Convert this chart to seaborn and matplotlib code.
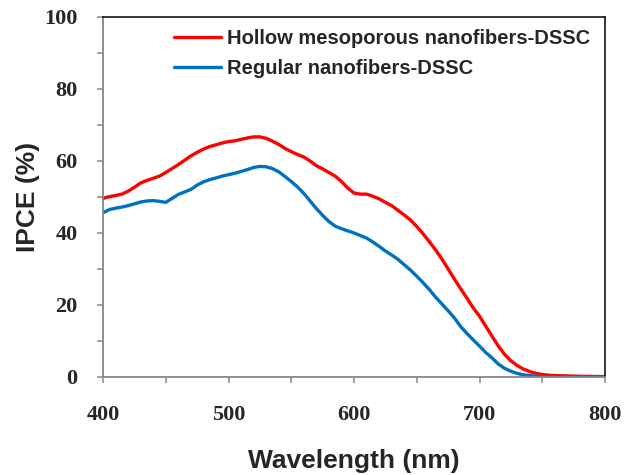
import numpy as np
import pandas as pd
import matplotlib
matplotlib.use("Agg")
import matplotlib.pyplot as plt
import seaborn as sns
from matplotlib.ticker import MultipleLocator

wavelength = list(range(400, 765, 5)) + [770, 780, 790, 800]
hollow = [49.6, 50.1, 50.4, 50.8, 51.6, 52.7, 53.9, 54.6, 55.2, 55.8,
          56.8, 57.9, 59.0, 60.2, 61.4, 62.4, 63.3, 64.0, 64.5, 65.0,
          65.4, 65.6, 66.0, 66.4, 66.7, 66.7, 66.3, 65.5, 64.6, 63.5,
          62.6, 61.8, 61.1, 60.0, 58.7, 57.8, 56.8, 55.8, 54.3, 52.5,
          51.1, 50.8, 50.8, 50.2, 49.5, 48.5, 47.6, 46.3, 45.0, 43.6,
          41.8, 39.8, 37.6, 35.3, 32.8, 30.0, 27.2, 24.5, 21.9, 19.2,
          16.9, 14.1, 11.3, 8.6, 6.3, 4.5, 3.2, 2.2, 1.5, 1.0,
          0.7, 0.5, 0.4, 0.3, 0.2, 0.15, 0.1]
regular = [45.6, 46.5, 46.9, 47.2, 47.6, 48.1, 48.6, 48.9, 49.0, 48.8,
           48.5, 49.6, 50.7, 51.4, 52.1, 53.3, 54.2, 54.8, 55.3, 55.8,
           56.2, 56.6, 57.1, 57.6, 58.2, 58.5, 58.4, 57.9, 57.0, 55.7,
           54.3, 52.8, 51.0, 48.9, 46.8, 44.9, 43.2, 41.9, 41.2, 40.6,
           40.0, 39.3, 38.6, 37.5, 36.3, 35.0, 33.9, 32.7, 31.2, 29.7,
           28.0, 26.2, 24.3, 22.2, 20.3, 18.4, 16.4, 14.0, 12.1, 10.3,
           8.6, 6.8, 5.3, 3.6, 2.4, 1.6, 1.0, 0.6, 0.4, 0.2,
           0.1, 0.05, 0.03, 0.02, 0.0, 0.0, 0.0]
series_names = ["Hollow mesoporous nanofibers-DSSC", "Regular nanofibers-DSSC"]
colors = ["#FF0000", "#0070C0"]

df = pd.DataFrame({
    "Wavelength": wavelength * 2,
    "IPCE": hollow + regular,
    "Series": [series_names[0]] * len(wavelength) + [series_names[1]] * len(wavelength),
})

sns.set_style("ticks")
plt.rcParams["font.family"] = ["Liberation Sans", "DejaVu Sans"]

fig = plt.figure(figsize=(6.24, 4.75), dpi=100)
ax = fig.add_axes([103 / 624, 1 - 377 / 475, (605 - 103) / 624, (377 - 17) / 475])

sns.lineplot(data=df, x="Wavelength", y="IPCE", hue="Series", palette=colors,
             hue_order=series_names, linewidth=2.4, ax=ax, legend=True)

ax.set_xlim(400, 800)
ax.set_ylim(0, 100)
ax.xaxis.set_major_locator(MultipleLocator(100))
ax.xaxis.set_minor_locator(MultipleLocator(50))
ax.yaxis.set_major_locator(MultipleLocator(20))
ax.yaxis.set_minor_locator(MultipleLocator(10))

gray = "#868686"
for s in ["left", "bottom"]:
    ax.spines[s].set_color(gray)
    ax.spines[s].set_linewidth(1.3)
for s in ["top", "right"]:
    ax.spines[s].set_visible(True)
    ax.spines[s].set_color("black")
    ax.spines[s].set_linewidth(1.1)

ax.tick_params(axis="both", which="both", direction="out", length=4.3, width=1.1, color=gray)
ax.tick_params(axis="y", which="major", pad=14)
ax.tick_params(axis="x", which="major", pad=16)
for lab in ax.get_xticklabels() + ax.get_yticklabels():
    lab.set_family(["Liberation Serif", "DejaVu Serif"])
    lab.set_fontweight("bold")
    lab.set_fontsize(16)

ax.set_xlabel("Wavelength (nm)", fontsize=19, fontweight="bold", labelpad=17)
ax.set_ylabel("IPCE (%)", fontsize=19, fontweight="bold", labelpad=3)

leg = ax.legend(loc="upper right", bbox_to_anchor=(0.986, 0.99), frameon=False,
                fontsize=14.5, handlelength=2.3, handletextpad=0.3,
                labelspacing=0.55, borderaxespad=0.0)
for t in leg.get_texts():
    t.set_fontweight("bold")
for h in leg.get_lines():
    h.set_linewidth(2.4)

fig.savefig("out.png", dpi=100)
